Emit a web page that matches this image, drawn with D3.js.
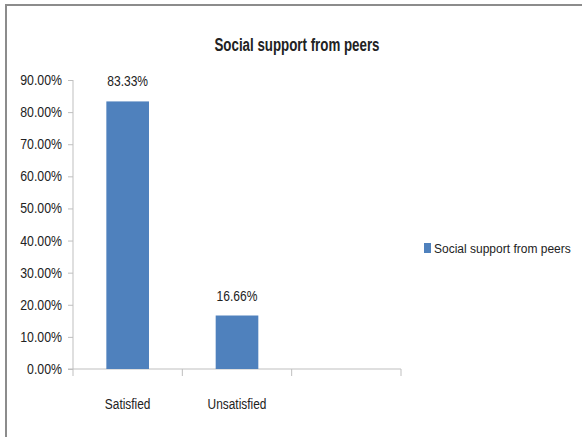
<!DOCTYPE html>
<html>
<head>
<meta charset="utf-8">
<script src="https://cdn.jsdelivr.net/npm/d3@7"></script>
<style>
  body { margin: 0; background: #fff; }
  svg text { font-family: "Liberation Sans", Arial, sans-serif; fill: #222; }
</style>
</head>
<body>
<div id="chart"></div>
<script>
// ─── data ─────────────────────────────────────────────────────────
const categories  = ["Satisfied", "Unsatisfied", ""];
const values      = [0.8333, 0.1666, null];
const valueLabels = ["83.33%", "16.66%", ""];
const yTicks      = [0, 0.1, 0.2, 0.3, 0.4, 0.5, 0.6, 0.7, 0.8, 0.9];
const seriesName  = "Social support from peers";
const title       = "Social support from peers";

const barColor  = "#4f81bd";
const axisColor = "#bfbfbf";

const width = 582, height = 437;

// the original font is narrow (Calibri-like), so squeeze glyphs horizontally
const squeeze = (sel, factor) => sel.each(function () {
    const w = this.getComputedTextLength();
    d3.select(this)
        .attr("textLength", w * factor)
        .attr("lengthAdjust", "spacingAndGlyphs");
});

const svg = d3.select("#chart").append("svg")
    .attr("width", width)
    .attr("height", height);

// outer frame (cropped on the right and bottom in the original)
svg.append("rect")
    .attr("x", 6).attr("y", 5)
    .attr("width", 600).attr("height", 460)
    .attr("fill", "none")
    .attr("stroke", "#8c8c8c")
    .attr("stroke-width", 2);

// ─── scales ───────────────────────────────────────────────────────
const x = d3.scaleBand()
    .domain(categories)
    .range([73, 401])
    .padding(0);

const y = d3.scaleLinear()
    .domain([0, 0.9])
    .range([369, 80]);

const barW = x.bandwidth() * 0.39;

// ─── title ────────────────────────────────────────────────────────
svg.append("text")
    .attr("x", 297).attr("y", 51)
    .attr("text-anchor", "middle")
    .style("font-size", "18px")
    .style("font-weight", "bold")
    .text(title)
    .call(squeeze, 0.74);

// ─── y axis ───────────────────────────────────────────────────────
const yAxis = svg.append("g")
    .attr("transform", "translate(73,0)")
    .call(d3.axisLeft(y).tickValues(yTicks).tickFormat(d3.format(".2%")).tickSize(5).tickPadding(6));

yAxis.select(".domain").attr("stroke", axisColor).attr("d", `M0,${y(0.9)}V${y(0)}`);
yAxis.selectAll(".tick line").attr("stroke", axisColor);
yAxis.selectAll(".tick text")
    .style("font-size", "14px")
    .attr("fill", "#222")
    .call(squeeze, 0.88);

// ─── x axis ───────────────────────────────────────────────────────
const xAxisG = svg.append("g")
    .attr("transform", `translate(0,${y(0)})`);

xAxisG.append("line")
    .attr("x1", 68).attr("x2", x.range()[1])
    .attr("stroke", axisColor);

const bounds = categories.map(c => x(c)).concat([x.range()[1]]);
xAxisG.selectAll("line.tick")
    .data(bounds)
    .join("line")
    .attr("class", "tick")
    .attr("x1", d => d).attr("x2", d => d)
    .attr("y1", 0).attr("y2", 7)
    .attr("stroke", axisColor);

xAxisG.selectAll("text")
    .data(categories)
    .join("text")
    .attr("x", d => x(d) + x.bandwidth() / 2)
    .attr("y", 40)
    .attr("text-anchor", "middle")
    .style("font-size", "14px")
    .text(d => d)
    .call(squeeze, 0.85);

// ─── bars ─────────────────────────────────────────────────────────
const barData = categories.map((c, i) => ({ cat: c, value: values[i], label: valueLabels[i] }))
    .filter(d => d.value != null);

svg.selectAll("rect.bar")
    .data(barData)
    .join("rect")
    .attr("class", "bar")
    .attr("x", d => x(d.cat) + (x.bandwidth() - barW) / 2)
    .attr("y", d => y(d.value))
    .attr("width", barW)
    .attr("height", d => y(0) - y(d.value))
    .attr("fill", barColor);

svg.selectAll("text.val")
    .data(barData)
    .join("text")
    .attr("class", "val")
    .attr("x", d => x(d.cat) + x.bandwidth() / 2)
    .attr("y", d => y(d.value) - 15)
    .attr("text-anchor", "middle")
    .style("font-size", "14px")
    .text(d => d.label)
    .call(squeeze, 0.86);

// ─── legend ───────────────────────────────────────────────────────
const legend = svg.append("g").attr("transform", "translate(424,243)");
legend.append("rect")
    .attr("width", 7).attr("height", 10)
    .attr("fill", barColor);
legend.append("text")
    .attr("x", 10).attr("y", 10)
    .style("font-size", "12.5px")
    .text(seriesName)
    .call(squeeze, 0.96);
</script>
</body>
</html>
